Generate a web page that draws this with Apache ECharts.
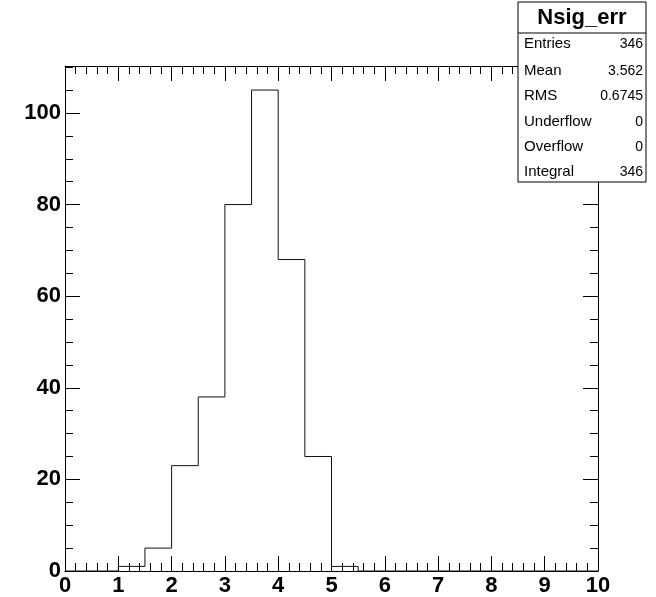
<!DOCTYPE html>
<html>
<head>
<meta charset="utf-8">
<script src="https://cdn.jsdelivr.net/npm/echarts@6/dist/echarts.min.js"></script>
<style>
html,body{margin:0;padding:0;background:#fff;}
#chart{width:656px;height:597px;}
</style>
</head>
<body>
<div id="chart"></div>
<script>
// Histogram Nsig_err: 20 bins of width 0.5 on [0,10]
const binLowEdges = [0,0.5,1,1.5,2,2.5,3,3.5,4,4.5,5,5.5,6,6.5,7,7.5,8,8.5,9,9.5];
const binCounts   = [0,0,1,5,23,38,80,105,68,25,1,0,0,0,0,0,0,0,0,0];
const xMax = 10;
const yMax = 110.25;
const statsTitle = 'Nsig_err';
const statsLabels = ['Entries','Mean','RMS','Underflow','Overflow','Integral'];
const statsValues = ['346','3.562','0.6745','0','0','346'];

const stepData = binLowEdges.map((e,i)=>[e, binCounts[i]]);
stepData.push([xMax, binCounts[binCounts.length-1]]);

const FONT = 'Liberation Sans, Arial, Helvetica, sans-serif';
const black = '#000';

function xAx(pos, showLabel, grid){
  return {
    type:'value', gridIndex:grid, position:pos, offset:0, min:0, max:xMax, interval:1,
    axisLine:{show:grid===0, onZero:false, lineStyle:{color:black,width:1}},
    axisTick:{show:grid===0, inside:true, length:15, lineStyle:{color:black,width:1}},
    minorTick:{show:grid===0, splitNumber:5, length:8, lineStyle:{color:black,width:1}},
    axisLabel:{show:showLabel, fontSize:22, fontWeight:'bold', color:black, fontFamily:FONT, margin:4},
    splitLine:{show:false}, minorSplitLine:{show:false}
  };
}
function yAx(pos, showLabel){
  return {
    type:'value', gridIndex:0, position:pos, offset:0, min:0, max:yMax, interval:20,
    axisLine:{show:true, onZero:false, lineStyle:{color:black,width:1}},
    axisTick:{show:true, inside:true, length:15, lineStyle:{color:black,width:1}},
    axisLabel:{show:showLabel, fontSize:22, fontWeight:'bold', color:black, fontFamily:FONT, margin:4, showMaxLabel:false,
      formatter:v=> v>100 ? '' : String(v)},
    splitLine:{show:false}
  };
}
function yMinor(grid, inside){
  return {
    type:'value', gridIndex:grid, position:'left', offset:0, min:0, max:yMax, interval:5,
    axisLine:{show:false, onZero:false},
    axisTick:{show:true, inside:inside, length:8, lineStyle:{color:black,width:1}},
    axisLabel:{show:false}, splitLine:{show:false}
  };
}

const boxL = 518, boxT = 2, boxW = 128, boxH = 180;
const rowY = [43,70,95,121,146,171];
const ZL = 5;
const statsChildren = [
  {type:'rect', zlevel:ZL, z:100, shape:{x:boxL,y:boxT,width:boxW,height:boxH}, style:{fill:'#fff',stroke:black,lineWidth:1}},
  {type:'line', zlevel:ZL, z:101, shape:{x1:boxL,y1:33,x2:boxL+boxW,y2:33}, style:{stroke:black,lineWidth:1}},
  {type:'text', zlevel:ZL, z:102, x:boxL+boxW/2, y:18, style:{text:statsTitle, font:'bold 22px '+FONT, fill:black, align:'center', verticalAlign:'middle'}}
];
statsLabels.forEach((lab,i)=>{
  statsChildren.push({type:'text', zlevel:ZL, z:102, x:boxL+6, y:rowY[i]+1, style:{text:lab, font:'15px '+FONT, fill:black, align:'left', verticalAlign:'middle'}});
  statsChildren.push({type:'text', zlevel:ZL, z:102, x:boxL+boxW-3, y:rowY[i]+1, style:{text:statsValues[i], font:'14px '+FONT, fill:black, align:'right', verticalAlign:'middle'}});
});

const gridBox = {left:65, right:58, top:66, bottom:26, containLabel:false};
// auxiliary grid whose left edge is the main frame's right edge (for right-side minor ticks)
const gridRightAux = {left:598, right:0, top:66, bottom:26, containLabel:false};
const chart = echarts.init(document.getElementById('chart'), null, {renderer:'canvas'});
chart.setOption({
  animation:false,
  backgroundColor:'#fff',
  grid:[Object.assign({}, gridBox), Object.assign({}, gridBox), gridRightAux],
  xAxis:[xAx('bottom',true,0), xAx('top',false,0), xAx('bottom',false,1), xAx('bottom',false,2)],
  yAxis:[yAx('left',true), yAx('right',false), yMinor(1,true), yMinor(2,false)],
  series:[{
    type:'line', xAxisIndex:0, yAxisIndex:0, step:'end', data:stepData,
    symbol:'none', clip:true,
    lineStyle:{color:'#111', width:1}
  }],
  graphic:statsChildren
});
</script>
</body>
</html>
